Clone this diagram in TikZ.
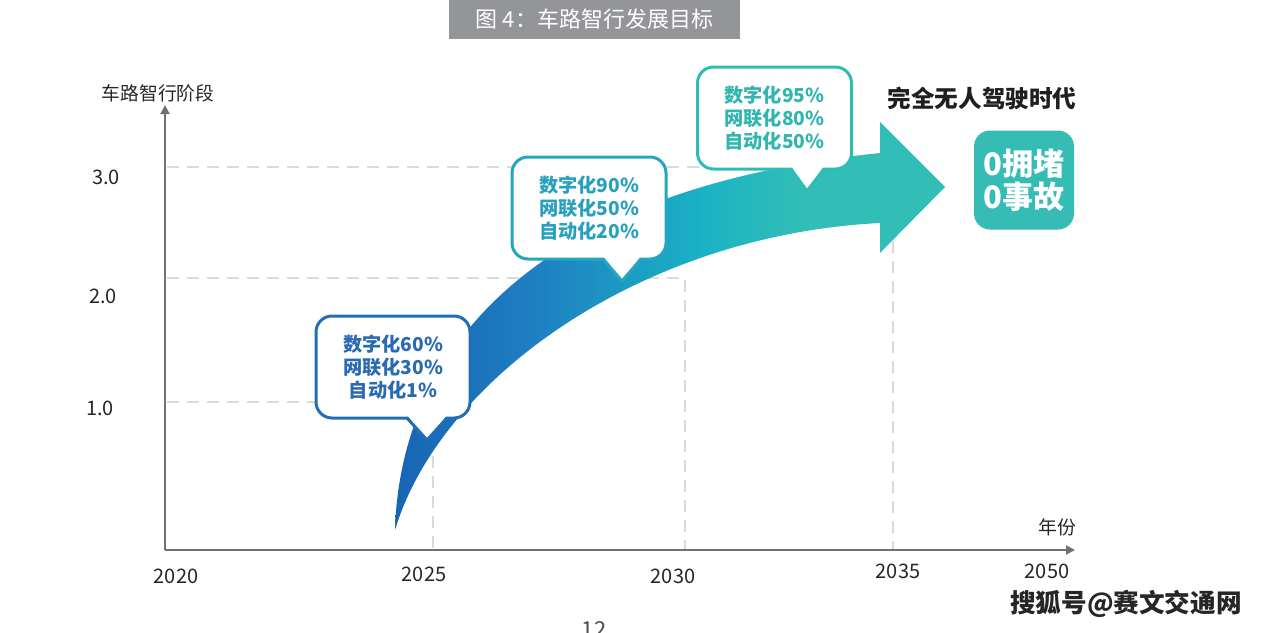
\documentclass[tikz,border=0pt]{standalone}
\usepackage{fontspec}
\setmainfont{Noto Sans CJK SC}
\usetikzlibrary{arrows.meta}
\definecolor{arrowA}{RGB}{24,100,180}
\definecolor{arrowB}{RGB}{30,128,194}
\definecolor{arrowC}{RGB}{26,178,196}
\definecolor{arrowD}{RGB}{50,190,182}
\definecolor{bone}{RGB}{31,110,182}
\definecolor{bonetext}{RGB}{42,106,176}
\definecolor{btwo}{RGB}{36,165,192}
\definecolor{btwotext}{RGB}{40,160,190}
\definecolor{bthree}{RGB}{46,189,181}
\definecolor{bthreetext}{RGB}{48,182,174}
\definecolor{boxteal}{RGB}{53,189,181}
\definecolor{titlegray}{RGB}{148,149,152}
\definecolor{axisgray}{RGB}{112,112,112}
\definecolor{dashgray}{RGB}{218,218,218}
\pgfdeclarehorizontalshading{arrowshade}{100bp}{color(0bp)=(arrowA); color(25bp)=(arrowA); color(38bp)=(arrowB); color(53bp)=(arrowC); color(62bp)=(arrowD); color(75bp)=(arrowD); color(100bp)=(arrowD)}
\begin{document}
\begin{tikzpicture}[x=0.5pt,y=-0.5pt,
  axisline/.style={draw=axisgray,line width=1pt},
  gridline/.style={draw=dashgray,line width=1.25pt,dash pattern=on 6pt off 4pt},
  ticklab/.style={font=\fontsize{10}{12}\selectfont,text=black!85},
  bubble/.style={draw,fill=white,line width=1.5pt,rounded corners=8pt,minimum width=77pt,minimum height=51pt,align=center,inner sep=0pt,font=\fontsize{9.6}{11.4}\selectfont\bfseries},
  tailline/.style={line width=1.5pt,line join=miter}]
\useasboundingbox (0,0) rectangle (1269,632);
% title
\node[fill=titlegray,text=white,minimum width=145.5pt,minimum height=19.5pt,inner sep=0pt,font=\fontsize{11}{13}\selectfont] (title) at (594.5,19.5) {图 4：车路智行发展目标};
% grid lines
\coordinate (o) at (165,550);
\coordinate (ytop) at (165,105);
\coordinate (xend) at (1075,550);
\coordinate (g3a) at (167,167); \coordinate (g3b) at (893,167);
\coordinate (g2a) at (167,278); \coordinate (g2b) at (685,278);
\coordinate (g1a) at (167,402); \coordinate (g1b) at (433,402);
\coordinate (v25) at (433,550); \coordinate (v30) at (685,550); \coordinate (v35) at (893,550);
\draw[gridline] (g3a) -- (g3b) -- (v35);
\draw[gridline] (g2a) -- (g2b) -- (v30);
\draw[gridline] (g1a) -- (g1b) -- (v25);
% axes
\draw[axisline,-{Triangle[length=4.5pt,width=4.5pt]}] (o) -- (ytop);
\draw[axisline,-{Triangle[length=4.5pt,width=4.5pt]}] (o) -- (xend);
\node[font=\fontsize{9.4}{11}\selectfont,text=black!85] (ylab) at (158,93) {车路智行阶段};
\node[font=\fontsize{9.4}{11}\selectfont,text=black!85] (xlab) at (1057,527) {年份};
\node[ticklab] (t3) at (106,177) {3.0};
\node[ticklab] (t2) at (103,296) {2.0};
\node[ticklab] (t1) at (100,408) {1.0};
\node[ticklab] (x20) at (176,576) {2020};
\node[ticklab] (x25) at (424,574) {2025};
\node[ticklab] (x30) at (673,576) {2030};
\node[ticklab] (x35) at (898,571) {2035};
\node[ticklab] (x50) at (1047,571) {2050};
% big arrow
\shade[shading=arrowshade] (395,530) .. controls (400,360) and (520,190) .. (880,153)
  -- (880,122) -- (945,187) -- (880,253) -- (880,223)
  .. controls (640,235) and (440,380) .. (395,530) -- cycle;
% bubble 1
\node[bubble,draw=bone,text=bonetext] (b1) at (393,367) {数字化60\%\\网联化30\%\\自动化1\%};
\fill[white] (407,415) -- (427,440) -- (447,415) -- cycle;
\draw[tailline,draw=bone] (407,418) -- (427,440) -- (447,418);
% bubble 2
\node[bubble,draw=btwo,text=btwotext] (b2) at (589,208) {数字化90\%\\网联化50\%\\自动化20\%};
\fill[white] (603,256) -- (622,281) -- (641,256) -- cycle;
\draw[tailline,draw=btwo] (603,259) -- (622,281) -- (641,259);
% bubble 3
\node[bubble,draw=bthree,text=bthreetext] (b3) at (774.5,118) {数字化95\%\\网联化80\%\\自动化50\%};
\fill[white] (791,166) -- (807,191) -- (824,166) -- cycle;
\draw[tailline,draw=bthree] (791,169) -- (807,191) -- (824,169);
% goal
\node[font=\fontsize{11.8}{14}\selectfont\bfseries,text=black!88] (era) at (982,98) {完全无人驾驶时代};
\node[fill=boxteal,rounded corners=8pt,minimum width=50pt,minimum height=49.5pt,inner sep=0pt,align=center,text=white,font=\fontsize{15.5}{16.5}\selectfont\bfseries] (goal) at (1024,180) {0拥堵\\0事故};
% watermark and page number
\node[font=\fontsize{12.8}{14}\selectfont\bfseries,text=black!85] (wm) at (1126,604) {搜狐号@赛文交通网};
\node[font=\fontsize{11}{13}\selectfont,text=black!70] (pg) at (594,630) {12};
\end{tikzpicture}
\end{document}
